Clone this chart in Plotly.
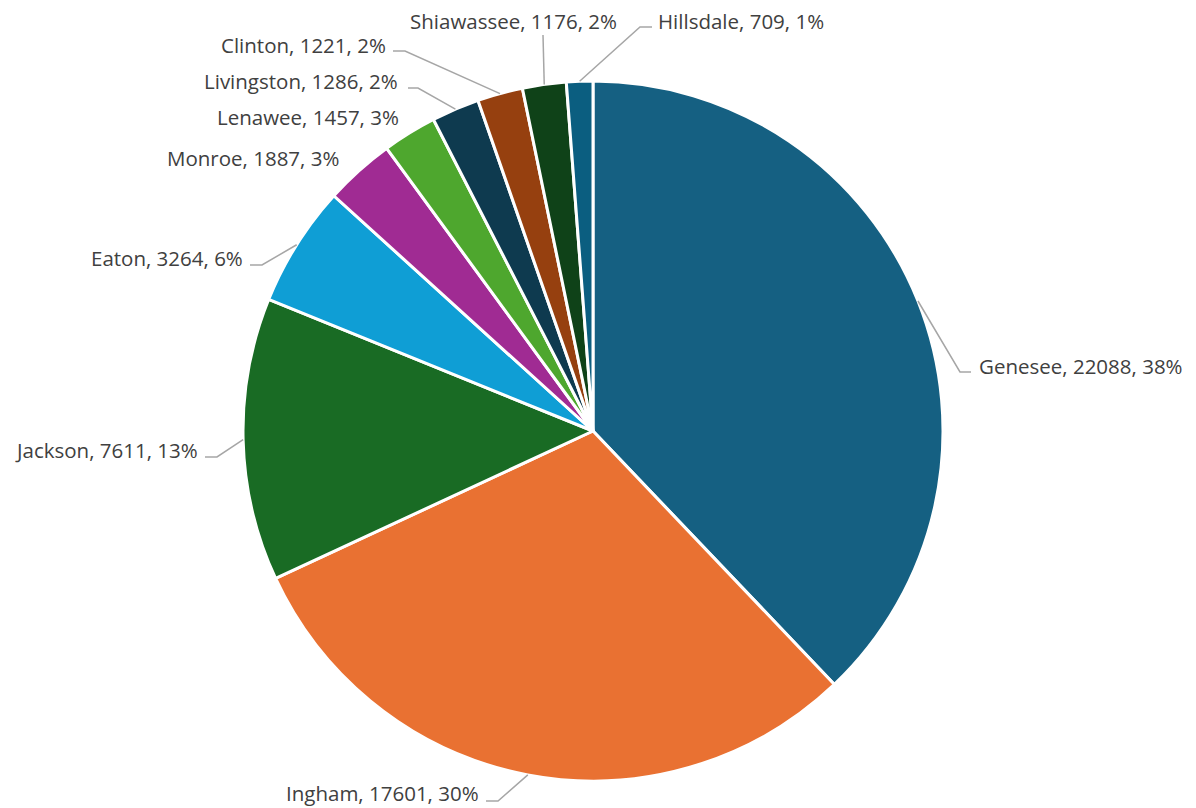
import math
import plotly.graph_objects as go

counties = ["Genesee", "Ingham", "Jackson", "Eaton", "Monroe", "Lenawee",
            "Livingston", "Clinton", "Shiawassee", "Hillsdale"]
values = [22088, 17601, 7611, 3264, 1887, 1457, 1286, 1221, 1176, 709]

colors = ["#156082", "#E97132", "#196B24", "#0F9ED5", "#A02B93", "#4EA72E",
          "#0E3A4F", "#96400F", "#0F4218", "#0B5E80"]

W, H = 1196, 808
CX, CY, R = 593, 431, 350

# label layout (pixels): text anchor, alignment, leader elbow & end (None = no leader)
label_layout = [
    dict(tx=977, ty=366, xa="left",   elbow=(960, 372), end=(971, 372)),
    dict(tx=481, ty=793, xa="right",  elbow=(498, 801), end=(486, 801)),
    dict(tx=200, ty=450, xa="right",  elbow=(217, 457), end=(205, 457)),
    dict(tx=245, ty=258, xa="right",  elbow=(262, 265), end=(250, 265)),
    dict(tx=341, ty=158, xa="right",  elbow=None, end=None),
    dict(tx=401, ty=117, xa="right",  elbow=None, end=None),
    dict(tx=400, ty=81,  xa="right",  elbow=(418, 88), end=(408, 88)),
    dict(tx=388, ty=45,  xa="right",  elbow=(405, 51), end=(393, 51)),
    dict(tx=513, ty=21,  xa="center", elbow=(543, 35), end=(543, 35)),
    dict(tx=656, ty=21,  xa="left",   elbow=(640, 27), end=(652, 27)),
]

def px(x):
    return x / W

def py(y):
    return 1 - y / H

total = sum(values)

# percentages rounded so they sum to 100 (largest remainder, as the chart shows)
raw = [100 * v / total for v in values]
pcts = [math.floor(r) for r in raw]
order = sorted(range(len(raw)), key=lambda i: raw[i] - pcts[i], reverse=True)
for i in order[:100 - sum(pcts)]:
    pcts[i] += 1

fig = go.Figure(go.Pie(
    labels=counties, values=values, sort=False, direction="clockwise",
    rotation=0, textinfo="none", hoverinfo="label+value+percent",
    marker=dict(colors=colors, line=dict(color="white", width=3)),
    domain=dict(x=[px(CX - R), px(CX + R)], y=[py(CY + R), py(CY - R)]),
    showlegend=False,
))

annotations = []
shapes = []
cum = 0
for name, v, pct, lay in zip(counties, values, pcts, label_layout):
    frac_mid = (cum + v / 2) / total
    cum += v
    ang = 2 * math.pi * frac_mid
    ex = CX + R * math.sin(ang)
    ey = CY - R * math.cos(ang)
    annotations.append(dict(
        x=px(lay["tx"]), y=py(lay["ty"]), xref="paper", yref="paper",
        text=f"{name}, {v}, {pct}%", showarrow=False,
        xanchor=lay["xa"], yanchor="middle",
        font=dict(family="Open Sans", size=20.5, color="#404040"),
    ))
    if lay["elbow"] is not None:
        (bx, by), (nx, ny) = lay["elbow"], lay["end"]
        path = (f"M {px(ex)} {py(ey)} L {px(bx)} {py(by)} L {px(nx)} {py(ny)}")
        shapes.append(dict(type="path", xref="paper", yref="paper", path=path,
                           line=dict(color="#A6A6A6", width=1.5)))

fig.update_layout(
    width=W, height=H, margin=dict(l=0, r=0, t=0, b=0),
    paper_bgcolor="white", plot_bgcolor="white",
    annotations=annotations, shapes=shapes,
)

fig.write_html("out.html", config={"displayModeBar": False},
               post_script="document.body.style.margin='0';")
